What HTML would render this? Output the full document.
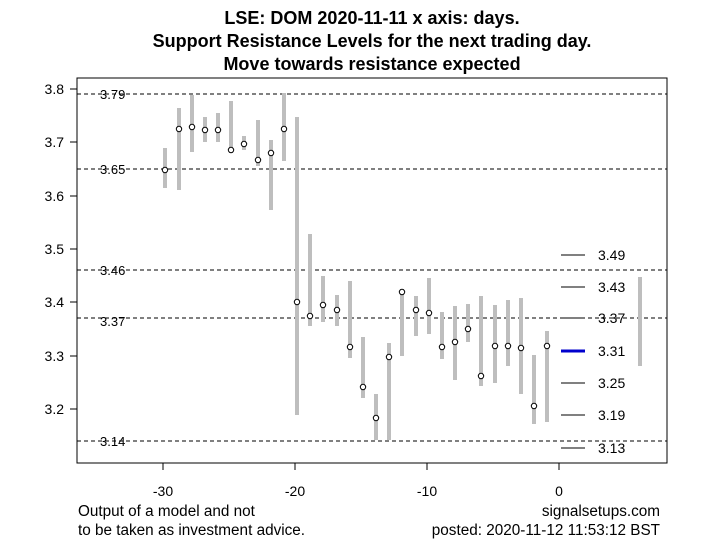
<!DOCTYPE html>
<html><head><meta charset="utf-8"><style>
html,body{margin:0;padding:0;background:#fff;}
svg{display:block;font-family:"Liberation Sans",Arial,sans-serif;}
</style></head><body>
<svg width="701" height="560" viewBox="0 0 701 560" xmlns="http://www.w3.org/2000/svg">
<rect width="701" height="560" fill="#fff"/>
<g font-weight="bold" font-size="18" text-anchor="middle" fill="#000">
<text x="372" y="24">LSE: DOM 2020-11-11 x axis: days.</text>
<text x="372" y="47">Support Resistance Levels for the next trading day.</text>
<text x="372" y="70">Move towards resistance expected</text>
</g>
<rect x="77" y="78" width="590" height="385" fill="none" stroke="#000" stroke-width="1"/>
<g stroke="#000" stroke-width="1">
<line x1="77" y1="89" x2="70" y2="89"/><line x1="77" y1="142" x2="70" y2="142"/><line x1="77" y1="196" x2="70" y2="196"/><line x1="77" y1="249" x2="70" y2="249"/><line x1="77" y1="302" x2="70" y2="302"/><line x1="77" y1="356" x2="70" y2="356"/><line x1="77" y1="409" x2="70" y2="409"/>
<line x1="163" y1="463" x2="163" y2="470"/><line x1="295" y1="463" x2="295" y2="470"/><line x1="427" y1="463" x2="427" y2="470"/><line x1="559" y1="463" x2="559" y2="470"/>
</g>
<g font-size="14" text-anchor="end" fill="#000">
<text x="64" y="94">3.8</text><text x="64" y="147">3.7</text><text x="64" y="201">3.6</text><text x="64" y="254">3.5</text><text x="64" y="307">3.4</text><text x="64" y="361">3.3</text><text x="64" y="414">3.2</text>
</g>
<g font-size="14" text-anchor="middle" fill="#000">
<text x="163" y="496">-30</text><text x="295" y="496">-20</text><text x="427" y="496">-10</text><text x="559" y="496">0</text>
</g>
<g stroke="#000" stroke-width="1" stroke-dasharray="4,3">
<line x1="77" y1="94" x2="667" y2="94"/><line x1="77" y1="169" x2="667" y2="169"/><line x1="77" y1="270" x2="667" y2="270"/><line x1="77" y1="318" x2="667" y2="318"/><line x1="77" y1="441" x2="667" y2="441"/>
</g>
<g font-size="13" fill="#000">
<text x="100" y="99">3.79</text><text x="100" y="174">3.65</text><text x="100" y="275">3.46</text><text x="100" y="326">3.37</text><text x="100" y="446">3.14</text>
</g>
<g stroke="#bebebe" stroke-width="4">
<line x1="165" y1="148" x2="165" y2="188"/>
<line x1="179" y1="108" x2="179" y2="190"/>
<line x1="192" y1="95" x2="192" y2="152"/>
<line x1="205" y1="117" x2="205" y2="142"/>
<line x1="218" y1="113" x2="218" y2="142"/>
<line x1="231" y1="101" x2="231" y2="153"/>
<line x1="244" y1="136" x2="244" y2="150"/>
<line x1="258" y1="120" x2="258" y2="166"/>
<line x1="271" y1="140" x2="271" y2="210"/>
<line x1="284" y1="93" x2="284" y2="161"/>
<line x1="297" y1="117" x2="297" y2="415"/>
<line x1="310" y1="234" x2="310" y2="326"/>
<line x1="323" y1="276" x2="323" y2="322"/>
<line x1="337" y1="295" x2="337" y2="326"/>
<line x1="350" y1="281" x2="350" y2="358"/>
<line x1="363" y1="337" x2="363" y2="398"/>
<line x1="376" y1="394" x2="376" y2="440"/>
<line x1="389" y1="343" x2="389" y2="440"/>
<line x1="402" y1="289" x2="402" y2="356"/>
<line x1="416" y1="296" x2="416" y2="336"/>
<line x1="429" y1="278" x2="429" y2="334"/>
<line x1="442" y1="312" x2="442" y2="359"/>
<line x1="455" y1="306" x2="455" y2="380"/>
<line x1="468" y1="304" x2="468" y2="342"/>
<line x1="481" y1="296" x2="481" y2="386"/>
<line x1="495" y1="305" x2="495" y2="383"/>
<line x1="508" y1="300" x2="508" y2="366"/>
<line x1="521" y1="298" x2="521" y2="394"/>
<line x1="534" y1="355" x2="534" y2="424"/>
<line x1="547" y1="331" x2="547" y2="422"/>
<line x1="640" y1="277" x2="640" y2="366"/>
</g>
<g fill="#fff" stroke="#000" stroke-width="1">
<circle cx="165" cy="170" r="2.7"/><circle cx="179" cy="129" r="2.7"/><circle cx="192" cy="127" r="2.7"/><circle cx="205" cy="130" r="2.7"/><circle cx="218" cy="130" r="2.7"/><circle cx="231" cy="150" r="2.7"/><circle cx="244" cy="144" r="2.7"/><circle cx="258" cy="160" r="2.7"/><circle cx="271" cy="153" r="2.7"/><circle cx="284" cy="129" r="2.7"/><circle cx="297" cy="302" r="2.7"/><circle cx="310" cy="316" r="2.7"/><circle cx="323" cy="305" r="2.7"/><circle cx="337" cy="310" r="2.7"/><circle cx="350" cy="347" r="2.7"/><circle cx="363" cy="387" r="2.7"/><circle cx="376" cy="418" r="2.7"/><circle cx="389" cy="357" r="2.7"/><circle cx="402" cy="292" r="2.7"/><circle cx="416" cy="310" r="2.7"/><circle cx="429" cy="313" r="2.7"/><circle cx="442" cy="347" r="2.7"/><circle cx="455" cy="342" r="2.7"/><circle cx="468" cy="329" r="2.7"/><circle cx="481" cy="376" r="2.7"/><circle cx="495" cy="346" r="2.7"/><circle cx="508" cy="346" r="2.7"/><circle cx="521" cy="348" r="2.7"/><circle cx="534" cy="406" r="2.7"/><circle cx="547" cy="346" r="2.7"/>
</g>
<g stroke="#000" stroke-width="1">
<line x1="561" y1="255" x2="585" y2="255"/><line x1="561" y1="287" x2="585" y2="287"/><line x1="561" y1="318" x2="585" y2="318"/><line x1="561" y1="383" x2="585" y2="383"/><line x1="561" y1="415" x2="585" y2="415"/><line x1="561" y1="448" x2="585" y2="448"/>
</g>
<line x1="561" y1="351" x2="585" y2="351" stroke="#0000cd" stroke-width="3"/>
<g font-size="14" fill="#000">
<text x="598" y="260">3.49</text><text x="598" y="292">3.43</text><text x="598" y="323">3.37</text><text x="598" y="356">3.31</text><text x="598" y="388">3.25</text><text x="598" y="420">3.19</text><text x="598" y="453">3.13</text>
</g>
<g font-size="15.3" fill="#000">
<text x="78" y="516">Output of a model and not</text>
<text x="78" y="535">to be taken as investment advice.</text>
<text x="660" y="516" text-anchor="end">signalsetups.com</text>
<text x="660" y="535" text-anchor="end">posted: 2020-11-12 11:53:12 BST</text>
</g>
</svg>
</body></html>
